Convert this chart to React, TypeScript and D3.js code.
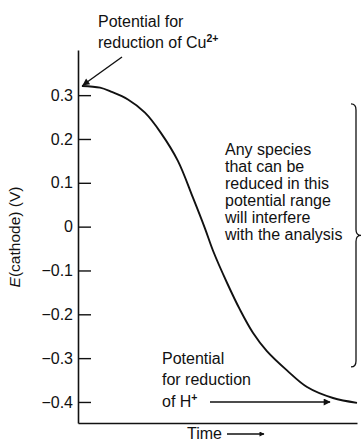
import React, { useRef, useEffect } from "react";
import * as d3 from "d3";

// curve: time (arbitrary units) vs E(cathode) in volts
const times = [1.4, 7.9, 11.8, 17.9, 24, 29.7, 35.8, 41.2, 45.5, 48.4, 53.4, 58.1, 62.7, 67.7, 74.9, 82.1, 91.4, 100];
const potentials = [0.321, 0.317, 0.308, 0.29, 0.26, 0.214, 0.15, 0.066, -0.004, -0.055, -0.128, -0.19, -0.242, -0.284, -0.328, -0.366, -0.391, -0.402];
const yTicks = [0.3, 0.2, 0.1, 0, -0.1, -0.2, -0.3, -0.4];
const rangeNote = ["Any species", "that can be", "reduced in this", "potential range", "will interfere", "with the analysis"];
const hNote = ["Potential", "for reduction"];
const cuNote = ["Potential for", "reduction of Cu"];

const font = "'Liberation Sans', Arial, Helvetica, sans-serif";

const App: React.FC = () => {
  const width = 364;
  const height = 443;
  const svgRef = useRef<SVGSVGElement>(null);

  const x = d3.scaleLinear().domain([0, 100]).range([78, 357]);
  const y = d3.scaleLinear().domain([-0.448, 0.403]).range([423, 50]);

  const points = times.map((t, i) => ({ t, e: potentials[i] }));

  const line = d3
    .line<{ t: number; e: number }>()
    .x(d => x(d.t))
    .y(d => y(d.e))
    .curve(d3.curveCatmullRom.alpha(0.5));

  useEffect(() => {
    const svg = d3.select(svgRef.current);

    // y axis, ticks pointing into the plot
    const yAxis = d3
      .axisLeft(y)
      .tickValues(yTicks)
      .tickSizeInner(-13)
      .tickSizeOuter(0)
      .tickPadding(5)
      .tickFormat(d => {
        const v = +d;
        if (v === 0) return "0";
        return (v < 0 ? "\u2212" : "") + Math.abs(v).toFixed(1);
      });

    const gy = svg.select<SVGGElement>("g.y-axis").attr("transform", "translate(78,0)");
    gy.call(yAxis);
    gy.select(".domain").attr("stroke", "#111").attr("stroke-width", 1.6);
    gy.selectAll(".tick line").attr("stroke", "#111").attr("stroke-width", 1.4);
    gy.selectAll(".tick text")
      .attr("font-family", font)
      .attr("font-size", 16)
      .attr("fill", "#111");

    // x axis, no ticks
    const xAxis = d3.axisBottom(x).tickValues([]).tickSizeOuter(0);
    const gx = svg.select<SVGGElement>("g.x-axis").attr("transform", "translate(0,423)");
    gx.call(xAxis);
    gx.select(".domain").attr("stroke", "#111").attr("stroke-width", 1.6);
  }, []);

  // brace spanning the interfering range
  const bx = 356;
  const bTop = y(0.28);
  const bBot = y(-0.32);
  const bMid = y(-0.02);
  const brace = `M${bx - 5},${bTop} Q${bx},${bTop} ${bx},${bTop + 6} L${bx},${bMid - 6} Q${bx},${bMid} ${bx + 5},${bMid} Q${bx},${bMid} ${bx},${bMid + 6} L${bx},${bBot - 6} Q${bx},${bBot} ${bx - 5},${bBot}`;

  return (
    <svg
      ref={svgRef}
      width={width}
      height={height}
      style={{ position: "absolute", left: 0, top: 0, background: "#fff" }}
    >
      <defs>
        <marker id="head" viewBox="0 0 10 10" refX="9" refY="5" markerWidth="10" markerHeight="7" markerUnits="userSpaceOnUse" orient="auto">
          <path d="M0,0 L10,5 L0,10 Z" fill="#111" />
        </marker>
        <marker id="headSmall" viewBox="0 0 10 10" refX="9" refY="5" markerWidth="9" markerHeight="5" markerUnits="userSpaceOnUse" orient="auto">
          <path d="M0,0 L10,5 L0,10 Z" fill="#111" />
        </marker>
      </defs>

      <g className="y-axis" />
      <g className="x-axis" />

      <path d={line(points) ?? ""} fill="none" stroke="#111" strokeWidth={1.9} />

      {/* axis titles */}
      <text transform="translate(20,237) rotate(-90)" textAnchor="middle" fontFamily={font} fontSize={15.5} fill="#111">
        <tspan fontStyle="italic">E</tspan>(cathode) (V)
      </text>
      <text x={187} y={439} fontFamily={font} fontSize={16} fill="#111">Time</text>
      <line x1={227} y1={434} x2={264} y2={434} stroke="#111" strokeWidth={1.3} markerEnd="url(#headSmall)" />

      {/* Cu2+ note */}
      <g fontFamily={font} fontSize={16} fill="#111">
        <text x={98} y={27}>{cuNote[0]}</text>
        <text x={98} y={48}>
          {cuNote[1]}
          <tspan dy={-6} fontSize={10.5} fontWeight="bold">2+</tspan>
        </text>
      </g>
      <line x1={122} y1={57} x2={83} y2={85} stroke="#111" strokeWidth={1.4} markerEnd="url(#head)" />

      {/* H+ note */}
      <g fontFamily={font} fontSize={16} fill="#111">
        {hNote.map((s, i) => (
          <text key={s} x={162} y={364 + i * 21}>
            {s}
          </text>
        ))}
        <text x={162} y={407}>
          of H<tspan dy={-6} fontSize={10.5} fontWeight="bold">+</tspan>
        </text>
      </g>
      <line x1={210} y1={402} x2={330} y2={402} stroke="#111" strokeWidth={1.3} markerEnd="url(#head)" />

      {/* interference note */}
      <g fontFamily={font} fontSize={16} fill="#111">
        {rangeNote.map((s, i) => (
          <text key={s} x={225} y={155 + i * 17}>
            {s}
          </text>
        ))}
      </g>
      <path d={brace} fill="none" stroke="#111" strokeWidth={1.3} />
    </svg>
  );
};

export default App;
